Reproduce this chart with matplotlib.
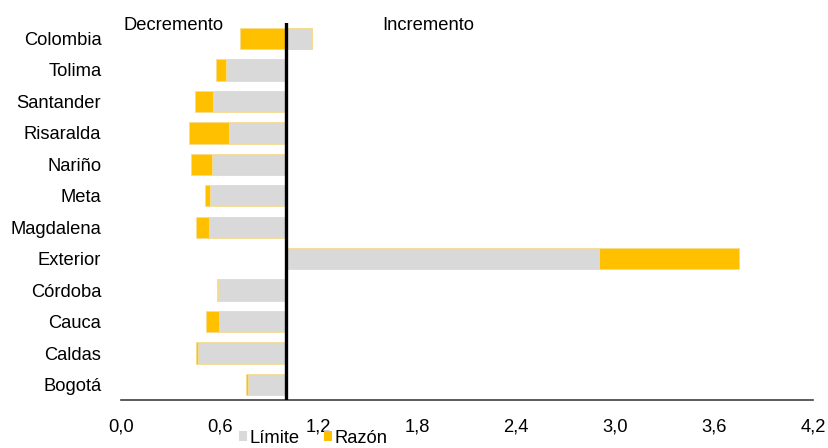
import matplotlib
matplotlib.use('Agg')
import matplotlib.pyplot as plt
from matplotlib.patches import Patch

plt.rcParams['font.family'] = ['Liberation Sans Narrow', 'Liberation Sans', 'DejaVu Sans']

departamentos = ['Colombia', 'Tolima', 'Santander', 'Risaralda', 'Nariño', 'Meta',
                 'Magdalena', 'Exterior', 'Córdoba', 'Cauca', 'Caldas', 'Bogotá']
limite = [1.161, 0.641, 0.562, 0.655, 0.552, 0.542, 0.536, 2.902, 0.592, 0.595, 0.469, 0.774]
razon = [0.726, 0.578, 0.453, 0.413, 0.425, 0.512, 0.459, 3.754, 0.583, 0.519, 0.459, 0.758]
xticks = [0.0, 0.6, 1.2, 1.8, 2.4, 3.0, 3.6, 4.2]
base = 1.0

gris = '#D9D9D9'
amarillo = '#FFC000'
borde = '#F7DC8C'
fs = 13.2

fig = plt.figure(figsize=(8.29, 4.48), dpi=100)
ax = fig.add_axes([0.1456, 0.1065, 0.8351, 0.8428])

pos = list(range(len(departamentos)))[::-1]
# razón va del límite hasta el valor de la razón; el límite parte de 1
ax.barh(pos, [r - l for r, l in zip(razon, limite)], left=limite, height=0.68,
        color=amarillo, edgecolor=borde, linewidth=0.6, zorder=2)
ax.barh(pos, [l - base for l in limite], left=base, height=0.68,
        color=gris, edgecolor=borde, linewidth=0.6, zorder=3)
ax.axvline(base, color='black', linewidth=2.4, zorder=4)

ax.set_xlim(0, 4.2)
ax.set_ylim(-0.5, len(departamentos) - 0.5)
ax.set_yticks(pos)
ax.set_yticklabels(departamentos, fontsize=fs)
ax.set_xticks(xticks)
ax.set_xticklabels([f'{t:.1f}'.replace('.', ',') for t in xticks], fontsize=fs)
ax.tick_params(axis='both', length=0)
ax.tick_params(axis='y', pad=14)
ax.tick_params(axis='x', pad=13)
for s in ['top', 'right', 'left']:
    ax.spines[s].set_visible(False)
ax.spines['bottom'].set_color('#404040')
ax.spines['bottom'].set_linewidth(1.2)

ax.text(0.02, 11.27, 'Decremento', fontsize=fs, va='baseline', ha='left')
ax.text(1.586, 11.27, 'Incremento', fontsize=fs, va='baseline', ha='left')

handles = [Patch(facecolor=gris, label='Límite'), Patch(facecolor=amarillo, label='Razón')]
fig.legend(handles=handles, loc='center', bbox_to_anchor=(0.378, 0.022), ncol=2,
           frameon=False, fontsize=fs, handlelength=0.42, handleheight=0.42,
           handletextpad=0.18, columnspacing=1.3, borderpad=0)

fig.savefig('out.png', dpi=100)
